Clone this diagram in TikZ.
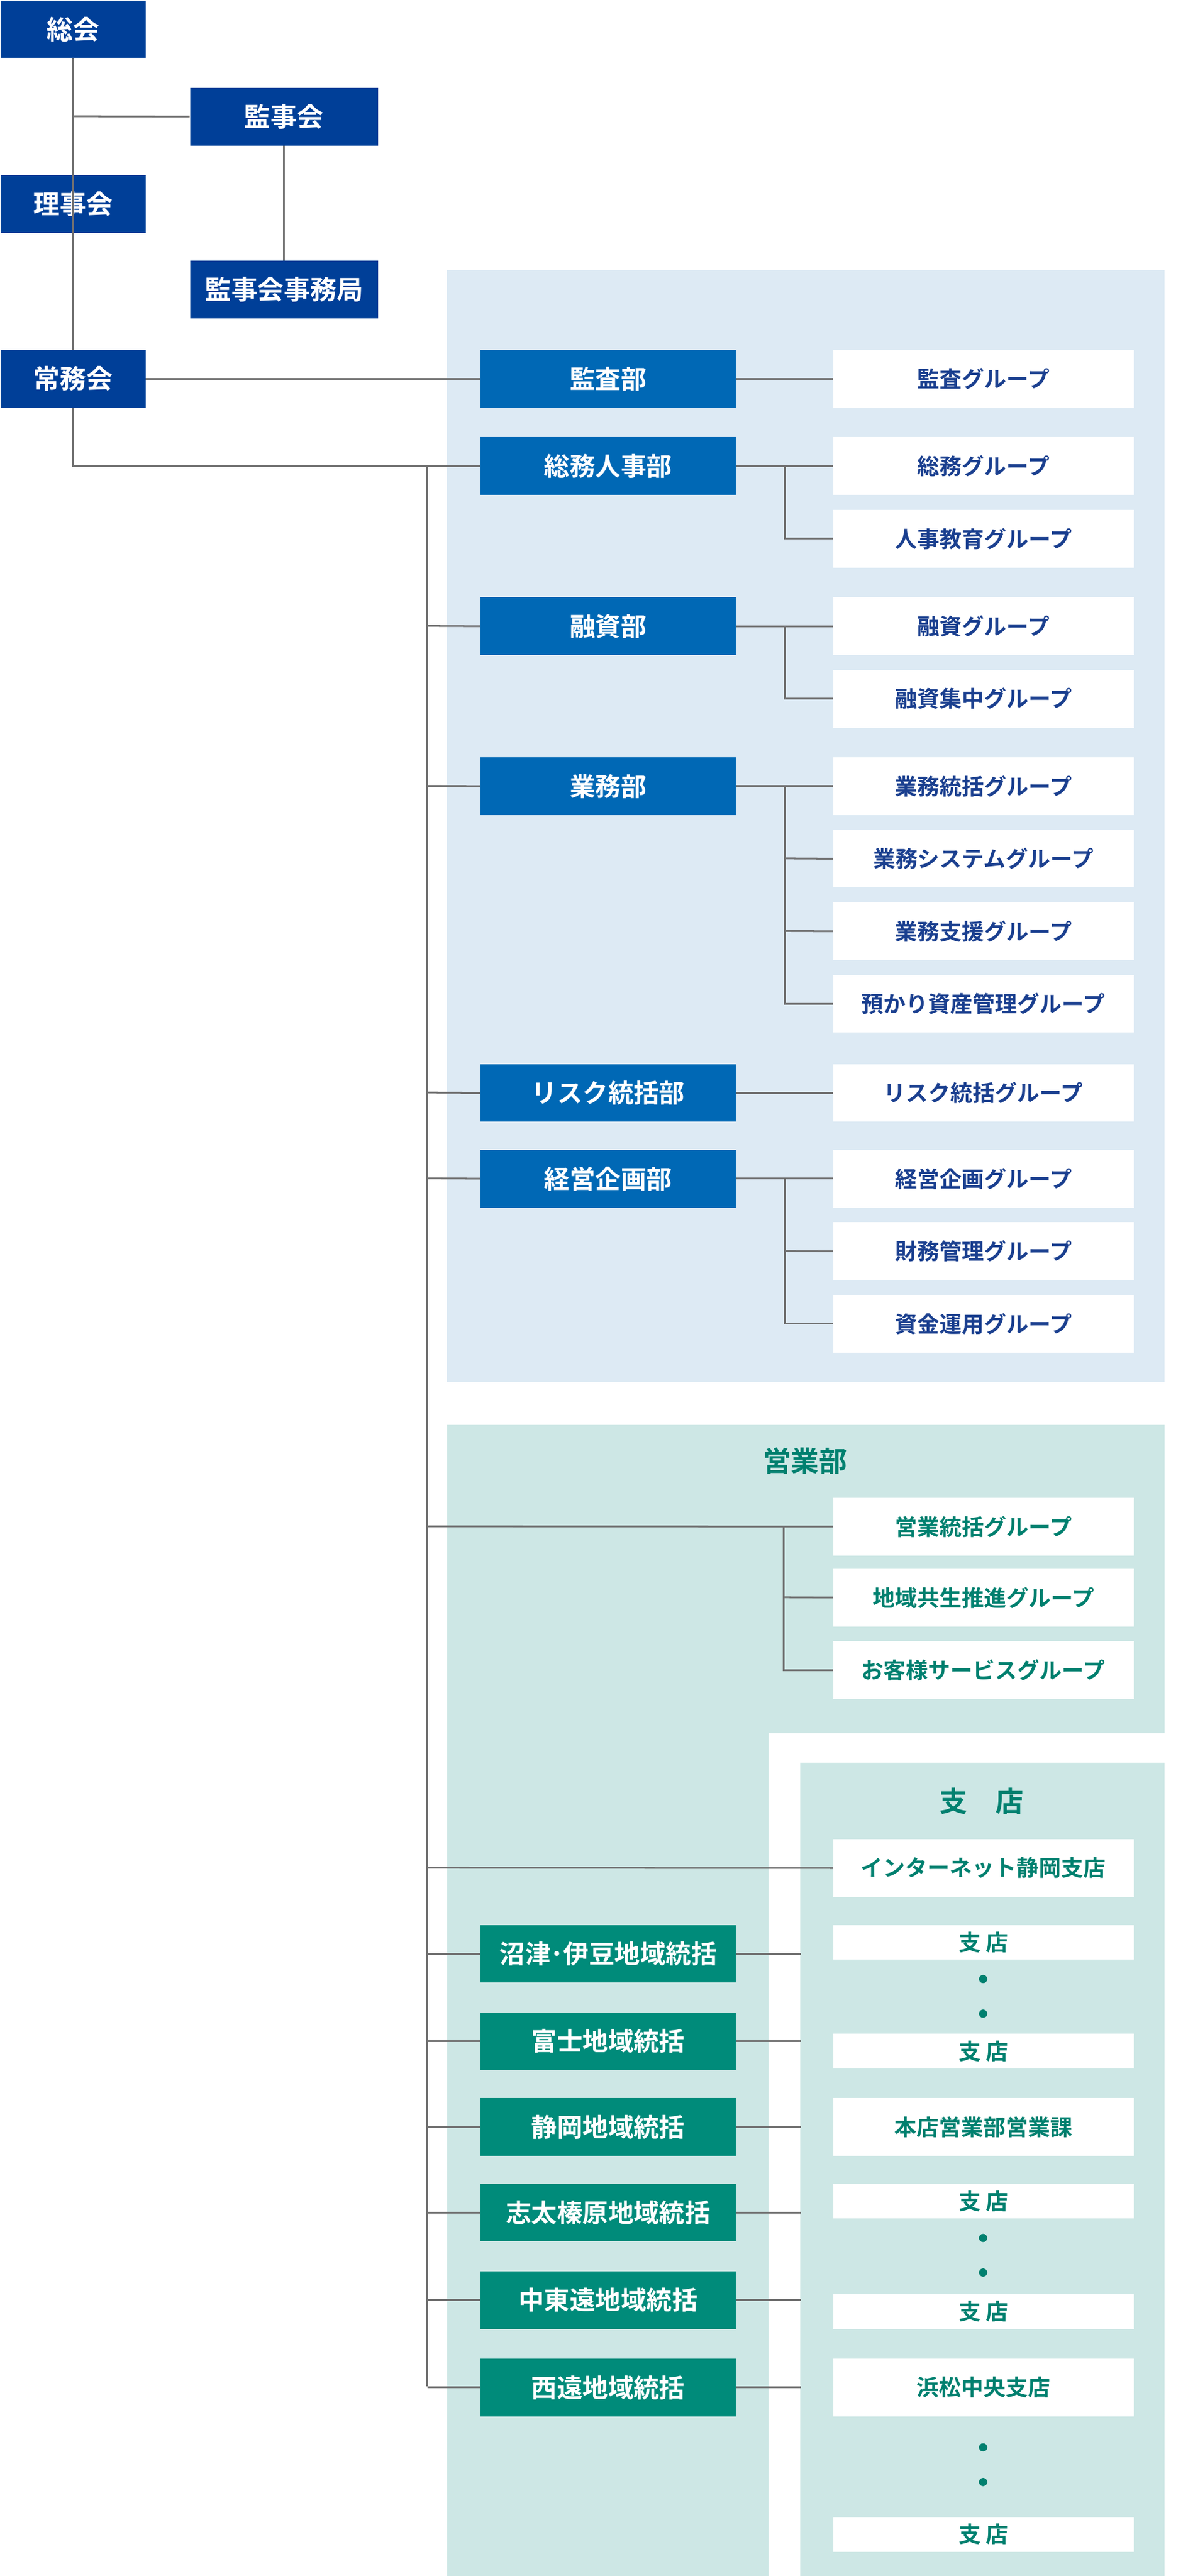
\documentclass[tikz,border=0pt]{standalone}
\usepackage{fontspec}
\setmainfont{Noto Sans CJK JP}[BoldFont={* Bold}]
\definecolor{navy}{HTML}{003F98}
\definecolor{dept}{HTML}{0068B5}
\definecolor{grtxt}{HTML}{1A3F8F}
\definecolor{lblue}{HTML}{DDEAF4}
\definecolor{lgreen}{HTML}{CDE7E5}
\definecolor{dgreen}{HTML}{008B7A}
\definecolor{tgreen}{HTML}{00806F}
\definecolor{ln}{HTML}{707070}
\tikzset{
 base/.style={anchor=north west,inner sep=0pt,font=\bfseries},
 top/.style={base,fill=navy,text=white,minimum width=88pt,minimum height=35pt,font=\bfseries\fontsize{16}{16}\selectfont},
 topw/.style={top,minimum width=114pt},
 deptbox/.style={base,fill=dept,text=white,minimum width=155pt,minimum height=35pt,font=\bfseries\fontsize{15.5}{15.5}\selectfont},
 grp/.style={base,fill=white,text=grtxt,minimum width=182pt,minimum height=35pt,font=\bfseries\fontsize{13.5}{13.5}\selectfont},
 ggrp/.style={grp,text=tgreen},
 gsh/.style={ggrp,minimum height=21pt},
 region/.style={base,fill=dgreen,text=white,minimum width=155pt,minimum height=35pt,font=\bfseries\fontsize{15.5}{15.5}\selectfont},
 dot/.style={circle,fill=tgreen,inner sep=0pt,minimum size=5pt},
 conn/.style={draw=ln,line width=1.1pt},
 ttl/.style={text=tgreen,font=\bfseries\fontsize{17}{17}\selectfont}
}
\begin{document}
\begin{tikzpicture}[x=1pt,y=-1pt]
\useasboundingbox (0,0) rectangle (720,1562);
% backgrounds
\fill[lblue] (271,164) rectangle (706,838);
\fill[lgreen] (271,864) -- (706,864) -- (706,1051) -- (466,1051) -- (466,1562) -- (271,1562) -- cycle;
\fill[lgreen] (485,1069) rectangle (706,1562);
% top
\node[top] (sokai) at (0,0) {総会};
\node[topw] (kanjikai) at (115,53) {監事会};
\node[top] (rijikai) at (0,106) {理事会};
\node[topw] (kjkj) at (115,158) {監事会事務局};
\node[top] (jomukai) at (0,212) {常務会};
% departments
\node[deptbox] (kansa) at (291,212) {監査部};
\node[deptbox] (somu) at (291,265) {総務人事部};
\node[deptbox] (yushi) at (291,362) {融資部};
\node[deptbox] (gyomu) at (291,459) {業務部};
\node[deptbox] (risk) at (291,645) {リスク統括部};
\node[deptbox] (keiei) at (291,697) {経営企画部};
% groups
\node[grp] (g1) at (505,212) {監査グループ};
\node[grp] (g2) at (505,265) {総務グループ};
\node[grp] (g3) at (505,309) {人事教育グループ};
\node[grp] (g4) at (505,362) {融資グループ};
\node[grp] (g5) at (505,406) {融資集中グループ};
\node[grp] (g6) at (505,459) {業務統括グループ};
\node[grp] (g7) at (505,503) {業務システムグループ};
\node[grp] (g8) at (505,547) {業務支援グループ};
\node[grp] (g9) at (505,591) {預かり資産管理グループ};
\node[grp] (g10) at (505,645) {リスク統括グループ};
\node[grp] (g11) at (505,697) {経営企画グループ};
\node[grp] (g12) at (505,741) {財務管理グループ};
\node[grp] (g13) at (505,785) {資金運用グループ};
% sales
\node[ttl] (eigyo) at (488,886) {営業部};
\node[ggrp] (s1) at (505,908) {営業統括グループ};
\node[ggrp] (s2) at (505,951) {地域共生推進グループ};
\node[ggrp] (s3) at (505,995) {お客様サービスグループ};
\node[ttl] (shiten) at (595,1092) {支　店};
\node[ggrp] (net) at (505,1115) {インターネット静岡支店};
\node[region] (r1) at (291,1167) {沼津･伊豆地域統括};
\node[region] (r2) at (291,1220) {富士地域統括};
\node[region] (r3) at (291,1272) {静岡地域統括};
\node[region] (r4) at (291,1324) {志太榛原地域統括};
\node[region] (r5) at (291,1377) {中東遠地域統括};
\node[region] (r6) at (291,1430) {西遠地域統括};
\node[gsh] (b1) at (505,1167) {支 店};
\node[dot] (d1) at (596,1200) {};
\node[dot] (d2) at (596,1221) {};
\node[gsh] (b2) at (505,1233) {支 店};
\node[ggrp] (b3) at (505,1272) {本店営業部営業課};
\node[gsh] (b4) at (505,1324) {支 店};
\node[dot] (d3) at (596,1357) {};
\node[dot] (d4) at (596,1378) {};
\node[gsh] (b5) at (505,1391) {支 店};
\node[ggrp] (b6) at (505,1430) {浜松中央支店};
\node[dot] (d5) at (596,1484) {};
\node[dot] (d6) at (596,1505) {};
\node[gsh] (b7) at (505,1526) {支 店};
% coordinates
\coordinate (ttop) at (259,282);
\coordinate (tbot) at (259,1447);
% connectors top
\draw[conn] (sokai.south) -- (jomukai.north);
\draw[conn] (44,70.5) -- (kanjikai.west);
\draw[conn] (kanjikai.south) -- (kjkj.north);
\draw[conn] (jomukai.east) -- (kansa.west);
\draw[conn] (jomukai.south) |- (somu.west);
\draw[conn] (ttop) -- (tbot);
\draw[conn] (kansa.east) -- (g1.west);
\draw[conn] (somu.east) -- (g2.west);
\draw[conn] (476,282.5) |- (g3.west);
\draw[conn] (259,379.5) -- (yushi.west);
\draw[conn] (yushi.east) -- (g4.west);
\draw[conn] (476,379.5) |- (g5.west);
\draw[conn] (259,476.5) -- (gyomu.west);
\draw[conn] (gyomu.east) -- (g6.west);
\draw[conn] (476,476.5) |- (g9.west);
\draw[conn] (476,520.5) -- (g7.west);
\draw[conn] (476,564.5) -- (g8.west);
\draw[conn] (259,662.5) -- (risk.west);
\draw[conn] (risk.east) -- (g10.west);
\draw[conn] (259,714.5) -- (keiei.west);
\draw[conn] (keiei.east) -- (g11.west);
\draw[conn] (476,714.5) |- (g13.west);
\draw[conn] (476,758.5) -- (g12.west);
% sales connectors
\draw[conn] (259,925.5) -- (s1.west);
\draw[conn] (475,925.5) |- (s3.west);
\draw[conn] (475,968.5) -- (s2.west);
\draw[conn] (259,1132.5) -- (net.west);
\foreach \r in {r1,r2,r3,r4,r5,r6}{
  \draw[conn] (\r.west) -- (\r.west -| ttop);
  \draw[conn] (\r.east) -- ++(39,0);
}
\end{tikzpicture}
\end{document}
